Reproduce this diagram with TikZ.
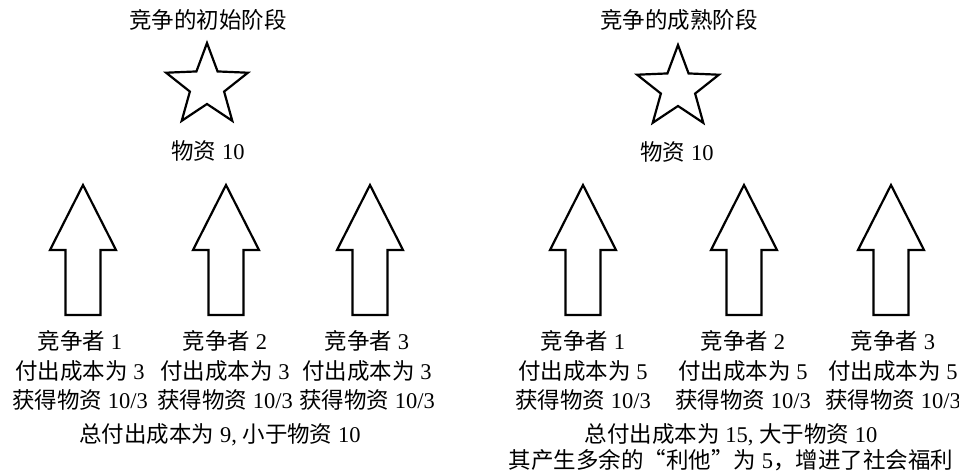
\documentclass[tikz,border=0pt]{standalone}
\usepackage{fontspec}
\setmainfont{Liberation Serif}
\newfontfamily\cjk{Noto Sans CJK SC}
\newcommand\zh[1]{{\cjk #1}}
\begin{document}
\begin{tikzpicture}[x=1pt,y=-1pt,
  txt/.style={inner sep=0pt, font=\fontsize{22.5}{26}\selectfont, anchor=center},
  outline/.style={draw=black, line width=2.2pt, line join=miter, fill=white},
  bigarrow/.pic={\draw[outline] (0,0) -- (33,65) -- (17.5,65) -- (17.5,130) -- (-17.5,130) -- (-17.5,65) -- (-33,65) -- cycle;},
  bigstar/.pic={\draw[outline] (90:43pt) -- (126:18pt) -- (162:43pt) -- (198:18pt) -- (234:43pt) -- (270:18pt) -- (306:43pt) -- (342:18pt) -- (18:43pt) -- (54:18pt) -- cycle;}
]
\useasboundingbox (0,0) rectangle (959,474);

% left panel
\node[txt] (titleL) at (208,20) {\zh{竞争的初始阶段}};
\coordinate (starL) at (207,86);
\pic at (starL) {bigstar};
\node[txt] (matL) at (208,151) {\zh{物资} 10};

\coordinate (arL1) at (83,185);
\coordinate (arL2) at (226,185);
\coordinate (arL3) at (370,185);
\pic at (arL1) {bigarrow};
\pic at (arL2) {bigarrow};
\pic at (arL3) {bigarrow};

\node[txt] (nL1) at (80,341) {\zh{竞争者} 1};
\node[txt] (nL2) at (225,341) {\zh{竞争者} 2};
\node[txt] (nL3) at (367,341) {\zh{竞争者} 3};
\node[txt] (cL1) at (80,371) {\zh{付出成本为} 3};
\node[txt] (cL2) at (225,371) {\zh{付出成本为} 3};
\node[txt] (cL3) at (367,371) {\zh{付出成本为} 3};
\node[txt] (gL1) at (80,400) {\zh{获得物资} 10/3};
\node[txt] (gL2) at (225,400) {\zh{获得物资} 10/3};
\node[txt] (gL3) at (367,400) {\zh{获得物资} 10/3};
\node[txt] (totL) at (220,435) {\zh{总付出成本为} 9, \zh{小于物资} 10};

% right panel
\node[txt] (titleR) at (679,20) {\zh{竞争的成熟阶段}};
\coordinate (starR) at (678,88);
\pic at (starR) {bigstar};
\node[txt] (matR) at (677,152) {\zh{物资} 10};

\coordinate (arR1) at (583,185);
\coordinate (arR2) at (744,185);
\coordinate (arR3) at (891,185);
\pic at (arR1) {bigarrow};
\pic at (arR2) {bigarrow};
\pic at (arR3) {bigarrow};

\node[txt] (nR1) at (583,341) {\zh{竞争者} 1};
\node[txt] (nR2) at (743,341) {\zh{竞争者} 2};
\node[txt] (nR3) at (893,341) {\zh{竞争者} 3};
\node[txt] (cR1) at (583,371) {\zh{付出成本为} 5};
\node[txt] (cR2) at (743,371) {\zh{付出成本为} 5};
\node[txt] (cR3) at (893,371) {\zh{付出成本为} 5};
\node[txt] (gR1) at (583,400) {\zh{获得物资} 10/3};
\node[txt] (gR2) at (743,400) {\zh{获得物资} 10/3};
\node[txt] (gR3) at (893,400) {\zh{获得物资} 10/3};
\node[txt] (totR) at (731,435) {\zh{总付出成本为} 15, \zh{大于物资} 10};
\node[txt] (socR) at (731,460) {\zh{其产生多余的“利他”为} 5\zh{，增进了社会福利}};
\end{tikzpicture}
\end{document}
